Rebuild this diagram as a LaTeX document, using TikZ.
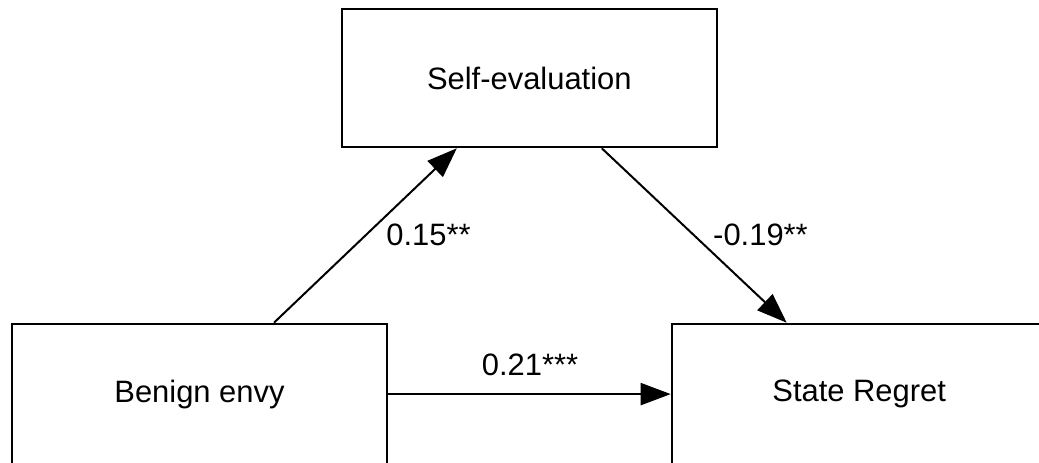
\documentclass[tikz,border=0pt]{standalone}
\usepackage{fontspec}
\setmainfont{Liberation Sans}
\usetikzlibrary{arrows.meta}
\tikzset{
    box/.style={draw,line width=0.04cm,minimum width=7.5cm,minimum height=2.76cm,inner sep=0pt},
    link/.style={line width=0.04cm,-{Triangle[length=0.6cm,width=0.44cm]}},
    coef/.style={anchor=base,inner sep=0pt}
}
\begin{document}
\begin{tikzpicture}[x=0.02cm,y=-0.02cm,font=\fontsize{17.6}{21}\selectfont]
    \useasboundingbox (0,0) rectangle (1039,463);
    \node[box] (selfeval) at (529.3,78.3) {Self-evaluation};
    \node[box,minimum height=2.816cm] (benign) at (199.5,394.1) {Benign envy};
    \node[box,minimum height=2.816cm] (regret) at (859.2,394.1) {State Regret};
    \draw[link] ([xshift=1.49cm]benign.north) -- ([xshift=-1.45cm]selfeval.south);
    \draw[link] ([xshift=1.45cm]selfeval.south) -- ([xshift=-1.45cm]regret.north);
    \draw[link] (benign.east) -- (regret.west);
    \node[coef] (a) at (428.5,245) {0.15**};
    \node[coef] (b) at (760.5,245) {-0.19**};
    \node[coef] (c) at (530,375) {0.21***};
\end{tikzpicture}
\end{document}
